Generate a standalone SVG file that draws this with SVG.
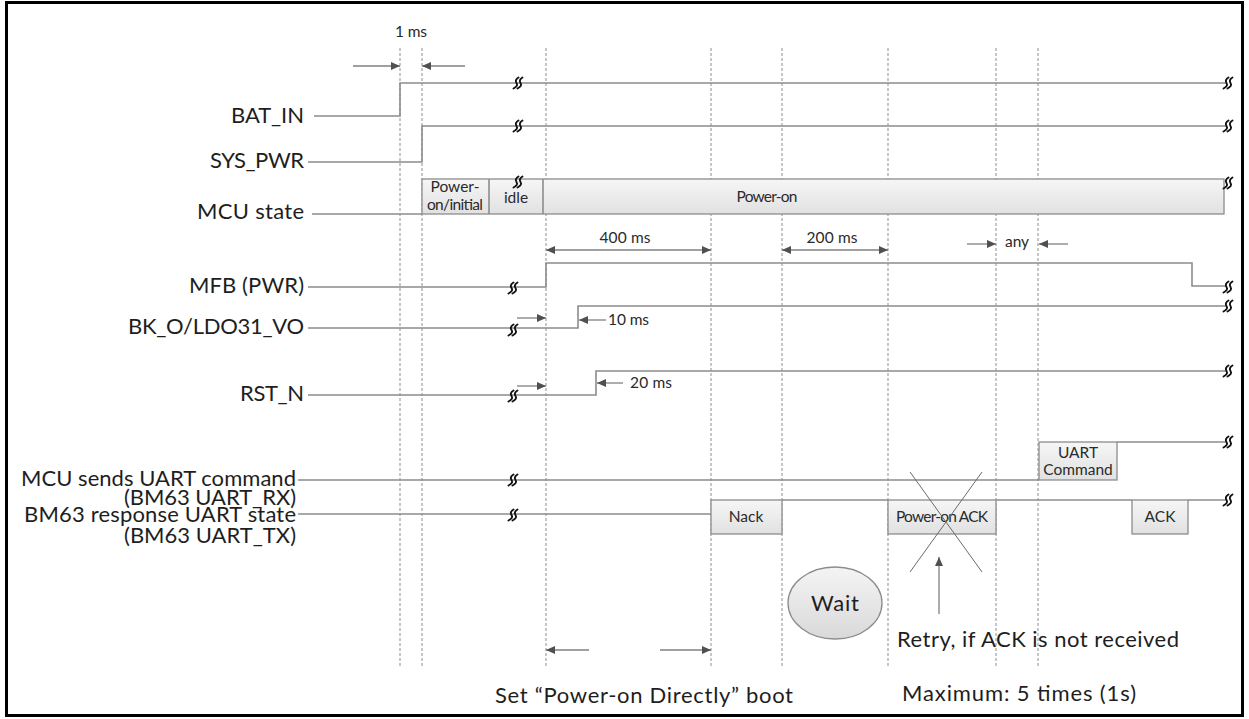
<svg xmlns="http://www.w3.org/2000/svg" xmlns:xlink="http://www.w3.org/1999/xlink" width="1249" height="719" viewBox="0 0 1249 719">
<style>
.lbl{font-family:Lato,"Open Sans",sans-serif;font-size:22px;fill:#1e1e1e}
.big{font-family:Lato,"Open Sans",sans-serif;font-size:22px;fill:#1e1e1e}
.sm{font-family:Lato,"Open Sans",sans-serif;font-size:15.5px;fill:#2a2a2a}
.sig{fill:none;stroke:#8c8c8c;stroke-width:1.6}
.grid{fill:none;stroke:#8f8f8f;stroke-width:1;stroke-dasharray:3,2}
.box{fill:url(#gr);stroke:#8c8c8c;stroke-width:1.3}
.arr{fill:none;stroke:#808080;stroke-width:1.3;marker-end:url(#ah)}
.darr{fill:none;stroke:#808080;stroke-width:1.3;marker-end:url(#ah);marker-start:url(#ah)}
.brk{fill:none;stroke:#111;stroke-width:1.9;stroke-linecap:round}
.x{fill:none;stroke:#6a6a6a;stroke-width:1}
</style>
<defs>
<linearGradient id="gr" x1="0" y1="0" x2="0" y2="1">
<stop offset="0" stop-color="#f6f6f6"/>
<stop offset="1" stop-color="#e1e1e1"/>
</linearGradient>
<linearGradient id="gre" x1="0" y1="0" x2="0" y2="1">
<stop offset="0" stop-color="#f4f4f4"/>
<stop offset="1" stop-color="#d9d9d9"/>
</linearGradient>
<marker id="ah" markerUnits="userSpaceOnUse" markerWidth="10" markerHeight="8" refX="9" refY="4" orient="auto-start-reverse">
<path d="M0,0 L9,4 L0,8 z" fill="#505050"/>
</marker>
<g id="bk">
<path class="brk" d="M2.5,-5.5 Q-1.5,-3 0.5,0 T-2.5,5.5"/>
<path class="brk" d="M6.5,-5.5 Q2.5,-3 4.5,0 T1.5,5.5"/>
</g>
</defs>
<rect x="0" y="0" width="1249" height="719" fill="#fff"/>
<rect x="6.5" y="2.5" width="1236" height="713" fill="none" stroke="#000" stroke-width="3"/>

<g id="gridlines">
<line class="grid" x1="400" y1="48" x2="400" y2="668"/>
<line class="grid" x1="422" y1="48" x2="422" y2="668"/>
<line class="grid" x1="546" y1="48" x2="546" y2="668"/>
<line class="grid" x1="711" y1="48" x2="711" y2="668"/>
<line class="grid" x1="782" y1="48" x2="782" y2="668"/>
<line class="grid" x1="888" y1="48" x2="888" y2="668"/>
<line class="grid" x1="996" y1="48" x2="996" y2="668"/>
<line class="grid" x1="1038" y1="48" x2="1038" y2="668"/>
</g>

<g id="bat_in">
<text class="lbl" x="304" y="123" text-anchor="end" textLength="73">BAT_IN</text>
<path class="sig" d="M314,116 H400 V83 H1226"/>
<use xlink:href="#bk" x="516" y="83"/>
<use xlink:href="#bk" x="1226" y="83"/>
</g>

<g id="sys_pwr">
<text class="lbl" x="304" y="168" text-anchor="end" textLength="94">SYS_PWR</text>
<path class="sig" d="M308,162 H422 V126 H1226"/>
<use xlink:href="#bk" x="516" y="126"/>
<use xlink:href="#bk" x="1226" y="126"/>
</g>

<g id="mcu_state">
<text class="lbl" x="304" y="219" text-anchor="end" textLength="107">MCU state</text>
<path class="sig" d="M312,214 H422"/>
<rect class="box" x="422" y="179" width="802" height="35"/>
<line class="sig" x1="489" y1="179" x2="489" y2="214"/>
<line class="sig" x1="543" y1="179" x2="543" y2="214"/>
<text class="sm" x="455" y="192" text-anchor="middle">Power-</text>
<text class="sm" x="455" y="210" text-anchor="middle" textLength="56">on/initial</text>
<text class="sm" x="516" y="203" text-anchor="middle">idle</text>
<text class="sm" x="767" y="202" text-anchor="middle" textLength="61">Power-on</text>
<use xlink:href="#bk" x="516" y="182"/>
<use xlink:href="#bk" x="1226" y="183"/>
</g>

<g id="mfb">
<text class="lbl" x="304" y="293" text-anchor="end" textLength="115">MFB (PWR)</text>
<path class="sig" d="M308,287 H546 V263 H1192 V286 H1226"/>
<use xlink:href="#bk" x="511" y="288"/>
<use xlink:href="#bk" x="1226" y="287"/>
</g>

<g id="bk_o">
<text class="lbl" x="304" y="334" text-anchor="end" textLength="176">BK_O/LDO31_VO</text>
<path class="sig" d="M308,328 H578 V306 H1226"/>
<use xlink:href="#bk" x="511" y="330"/>
<use xlink:href="#bk" x="1226" y="306"/>
<text class="sm" x="608" y="325" textLength="41">10 ms</text>
</g>

<g id="rst_n">
<text class="lbl" x="304" y="401" text-anchor="end" textLength="64">RST_N</text>
<path class="sig" d="M308,395 H596 V371 H1226"/>
<use xlink:href="#bk" x="511" y="396"/>
<use xlink:href="#bk" x="1226" y="371"/>
<text class="sm" x="630" y="388" textLength="42">20 ms</text>
</g>

<g id="uart_rx">
<text class="lbl" x="296" y="486" text-anchor="end" textLength="275">MCU sends UART command</text>
<text class="lbl" x="296" y="505" text-anchor="end" textLength="172">(BM63 UART_RX)</text>
<path class="sig" d="M298,480 H1039"/>
<rect class="box" x="1039" y="442" width="78" height="38"/>
<path class="sig" d="M1117,442 H1226"/>
<text class="sm" x="1078" y="458" text-anchor="middle">UART</text>
<text class="sm" x="1078" y="475" text-anchor="middle">Command</text>
<use xlink:href="#bk" x="511" y="480"/>
<use xlink:href="#bk" x="1226" y="442"/>
</g>

<g id="uart_tx">
<text class="lbl" x="296" y="522" text-anchor="end" textLength="272">BM63 response UART state</text>
<text class="lbl" x="296" y="543" text-anchor="end" textLength="172">(BM63 UART_TX)</text>
<path class="sig" d="M298,514 H711"/>
<rect class="box" x="711" y="500" width="71" height="34"/>
<path class="sig" d="M782,500 H888"/>
<rect class="box" x="888" y="500" width="108" height="34"/>
<path class="sig" d="M996,500 H1132"/>
<rect class="box" x="1132" y="500" width="56" height="34"/>
<path class="sig" d="M1188,500 H1226"/>
<text class="sm" x="746" y="522" text-anchor="middle">Nack</text>
<text class="sm" x="942" y="522" text-anchor="middle" textLength="92">Power-on ACK</text>
<text class="sm" x="1160" y="522" text-anchor="middle">ACK</text>
<use xlink:href="#bk" x="511" y="515"/>
<use xlink:href="#bk" x="1226" y="500"/>
</g>

<g id="wait">
<ellipse cx="835" cy="603" rx="47" ry="36" fill="url(#gre)" stroke="#8c8c8c" stroke-width="1.3"/>
<text class="big" x="835" y="611" text-anchor="middle" textLength="48">Wait</text>
</g>

<g id="retry">
<line class="x" x1="910" y1="472" x2="982" y2="572"/>
<line class="x" x1="982" y1="472" x2="910" y2="572"/>
<text class="big" x="897" y="647" textLength="282">Retry, if ACK is not received</text>
</g>

<g id="labels-bottom">
<text class="big" x="495" y="703" textLength="298">Set “Power-on Directly” boot</text>
<text class="big" x="902" y="701" textLength="234">Maximum: 5 times (1s)</text>
<text class="sm" x="411" y="37" text-anchor="middle" textLength="32">1 ms</text>
<text class="sm" x="625" y="243" text-anchor="middle" textLength="51">400 ms</text>
<text class="sm" x="832" y="243" text-anchor="middle" textLength="51">200 ms</text>
<text class="sm" x="1017" y="247" text-anchor="middle">any</text>
</g>

<g id="connectors">
<line class="arr" x1="353" y1="66" x2="400" y2="66"/>
<line class="arr" x1="465" y1="66" x2="422" y2="66"/>
<line class="darr" x1="546" y1="250" x2="711" y2="250"/>
<line class="darr" x1="782" y1="250" x2="888" y2="250"/>
<line class="arr" x1="967" y1="244" x2="996" y2="244"/>
<line class="arr" x1="1068" y1="244" x2="1039" y2="244"/>
<line class="arr" x1="517" y1="318" x2="546" y2="318"/>
<line class="arr" x1="606" y1="320" x2="579" y2="320"/>
<line class="arr" x1="517" y1="386" x2="546" y2="386"/>
<line class="arr" x1="623" y1="383" x2="597" y2="383"/>
<line class="arr" x1="589" y1="650" x2="546" y2="650"/>
<line class="arr" x1="660" y1="650" x2="711" y2="650"/>
<line class="arr" x1="939" y1="614" x2="939" y2="557"/>
</g>
</svg>
